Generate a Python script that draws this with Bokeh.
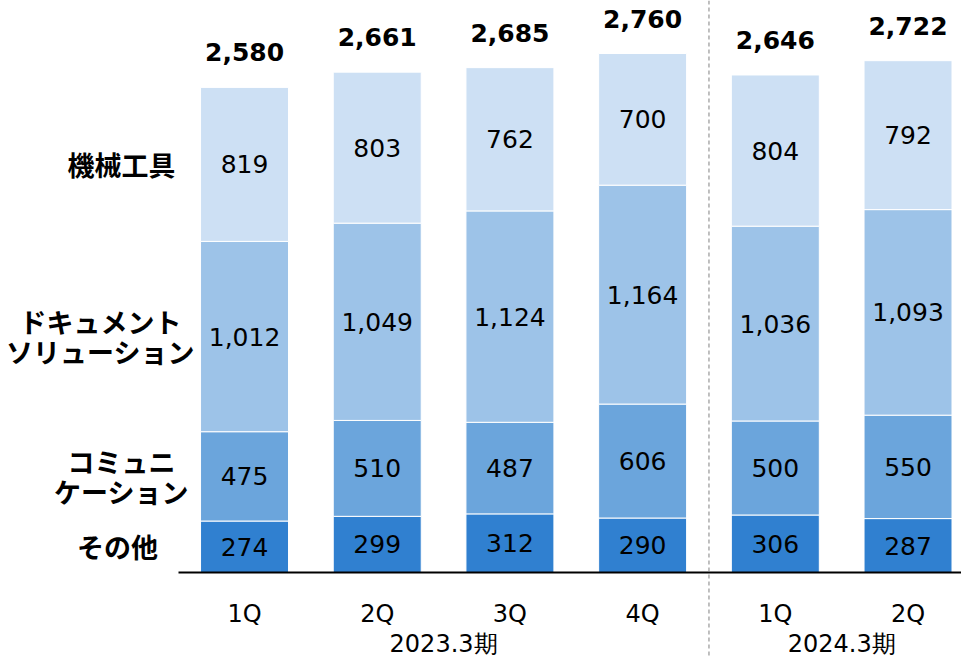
from bokeh.plotting import figure
from bokeh.models import (ColumnDataSource, Range1d, LinearAxis, FixedTicker, Span, LabelSet)
from bokeh.core.properties import value
from bokeh.embed import file_html
from bokeh.resources import INLINE

# ---- data ----
quarters = ["1Q", "2Q", "3Q", "4Q", "1Q", "2Q"]
periods = ["2023.3期", "2024.3期"]
segment_names = ["その他", "コミュニ\nケーション", "ドキュメント\nソリューション", "機械工具"]
other = [274, 299, 312, 290, 306, 287]
comm = [475, 510, 487, 606, 500, 550]
doc = [1012, 1049, 1124, 1164, 1036, 1093]
tool = [819, 803, 762, 700, 804, 792]
totals = [2580, 2661, 2685, 2760, 2646, 2722]

colors = ["#3080D0", "#6BA5DC", "#9DC3E8", "#CDE0F4"]
series = [other, comm, doc, tool]
keys = ["other", "comm", "doc", "tool"]

xs = list(range(len(quarters)))
period_x = [1.5, 4.5]
divider_x = 3.5

data = {"x": xs}
for k, s in zip(keys, series):
    data[k] = s
src = ColumnDataSource(data)

p = figure(width=961, height=658, output_backend="svg", toolbar_location=None,
           x_range=Range1d(-1.839, 5.403), y_range=Range1d(-457, 3042),
           x_axis_type=None, y_axis_type=None, min_border=0)
p.outline_line_color = None
p.xgrid.visible = False
p.ygrid.visible = False

p.vbar_stack(keys, x="x", width=0.663, color=colors, line_color="white",
             line_width=1, source=src)

# segment value labels
lx, ly, lt = [], [], []
for i in xs:
    base = 0
    for s in series:
        v = s[i]
        lx.append(i)
        ly.append(base + v / 2)
        lt.append(f"{v:,}")
        base += v
p.text(x=lx, y=ly, text=lt, text_align="center", text_baseline="middle",
       text_font=value("DejaVu Sans"), text_font_size="25px", text_color="black")

# totals
tsrc = ColumnDataSource(dict(x=xs, y=totals, t=[f"{v:,}" for v in totals]))
p.add_layout(LabelSet(x="x", y="y", text="t", source=tsrc, y_offset=35,
                      text_align="center", text_baseline="middle",
                      text_font=value("DejaVu Sans"), text_font_size="25px",
                      text_font_style="bold", text_color="black"))

# category labels next to the first bar (one entry per text line)
cx_pos = [-0.957, -0.927, -1.085, -0.927]
cx, cy, ct, co = [], [], [], []
base = 0
for name, s, xpos in zip(segment_names, series, cx_pos):
    mid = base + s[0] / 2
    base += s[0]
    lines = name.split("\n")
    n = len(lines)
    for j, line in enumerate(lines):
        cx.append(xpos)
        cy.append(mid)
        ct.append(line)
        co.append((n - 1) / 2 * 30 - j * 30)
csrc = ColumnDataSource(dict(x=cx, y=cy, t=ct, o=co))
p.add_layout(LabelSet(x="x", y="y", text="t", y_offset="o", source=csrc,
                      text_align="center", text_baseline="middle",
                      text_font=value("Noto Sans CJK JP"), text_font_size="27px",
                      text_font_style="bold", text_color="black"))

# divider
p.add_layout(Span(location=divider_x, dimension="height", line_color="#808080",
                  line_width=1, line_dash="4 3"))

# x axes
ax1 = LinearAxis(ticker=FixedTicker(ticks=xs),
                 major_label_overrides={i: q for i, q in zip(xs, quarters)},
                 fixed_location=0, bounds=(-0.497, 5.403))
ax1.axis_line_width = 2
ax1.axis_line_color = "black"
ax1.major_tick_line_color = None
ax1.minor_tick_line_color = None
ax1.major_label_standoff = 21
ax1.major_label_text_font = "DejaVu Sans"
ax1.major_label_text_font_size = "24px"
ax1.major_label_text_color = "black"
p.add_layout(ax1, "below")

ax2 = LinearAxis(ticker=FixedTicker(ticks=period_x),
                 major_label_overrides={x: t for x, t in zip(period_x, periods)},
                 fixed_location=0)
ax2.axis_line_color = None
ax2.major_tick_line_color = None
ax2.minor_tick_line_color = None
ax2.major_label_standoff = 51
ax2.major_label_text_font = "DejaVu Sans"
ax2.major_label_text_font_size = "24px"
ax2.major_label_text_color = "black"
p.add_layout(ax2, "below")

open("out.html", "w").write(file_html(p, INLINE))
